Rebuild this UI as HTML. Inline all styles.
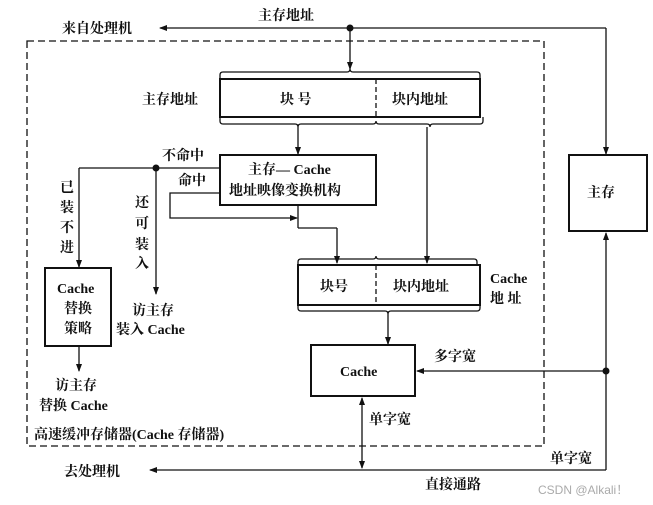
<!DOCTYPE html>
<html><head><meta charset="utf-8"><style>
body{margin:0;background:#fff}
svg{display:block}
text{font-family:"Liberation Serif","Noto Serif CJK SC",serif;font-size:14px;font-weight:bold;fill:#111}
</style></head><body>
<svg width="653" height="505" viewBox="0 0 653 505" xmlns="http://www.w3.org/2000/svg">
<defs>
<marker id="a" markerWidth="8" markerHeight="8" refX="7" refY="3" orient="auto" markerUnits="userSpaceOnUse"><path d="M0,0 L8,3 L0,6 Z" fill="#111"/></marker>
</defs>
<g stroke="#111" fill="none" stroke-width="1.3">
<!-- dashed container -->
<rect x="27" y="41" width="517" height="405" stroke-dasharray="7,4"/>
<!-- top line -->
<line x1="606" y1="28" x2="160" y2="28" marker-end="url(#a)"/>
<line x1="606" y1="28" x2="606" y2="154" marker-end="url(#a)"/>
<line x1="350" y1="28" x2="350" y2="69" marker-end="url(#a)"/>
<!-- main address box -->
<rect x="220" y="79" width="260" height="38" stroke-width="2"/>
<line x1="376" y1="79" x2="376" y2="117" stroke-dasharray="5,3"/>
<path d="M220,79 v-4 q0,-3 3,-3 h124 q3,0 3,-3 q0,3 3,3 h124 q3,0 3,3 v4"/>
<path d="M220,117 v4 q0,3 3,3 h72 q3,0 3,3 q0,-3 3,-3 h72 q3,0 3,-3 q0,3 3,3 h48 q3,0 3,3 q0,-3 3,-3 h47 q3,0 3,-3 v-4"/>
<line x1="298" y1="127" x2="298" y2="154" marker-end="url(#a)"/>
<line x1="427" y1="127" x2="427" y2="263" marker-end="url(#a)"/>
<!-- mapping box -->
<rect x="220" y="155" width="156" height="50" stroke-width="2"/>
<line x1="298" y1="205" x2="298" y2="228"/>
<line x1="298" y1="228" x2="337" y2="228"/>
<line x1="337" y1="228" x2="337" y2="263" marker-end="url(#a)"/>
<polyline points="220,193 170,193 170,218 297,218" marker-end="url(#a)"/>
<!-- miss line -->
<line x1="220" y1="168" x2="79" y2="168"/>
<line x1="79" y1="168" x2="79" y2="267" marker-end="url(#a)"/>
<line x1="156" y1="168" x2="156" y2="294" marker-end="url(#a)"/>
<rect x="45" y="268" width="66" height="78" stroke-width="2"/>
<line x1="79" y1="346" x2="79" y2="371" marker-end="url(#a)"/>
<!-- cache address -->
<rect x="298" y="265" width="182" height="40" stroke-width="2"/>
<line x1="376" y1="265" x2="376" y2="305" stroke-dasharray="5,3"/>
<path d="M298,265 v-3 q0,-3 3,-3 h72 q3,0 3,-3 q0,3 3,3 h95 q3,0 3,3 v3"/>
<path d="M298,305 v3 q0,3 3,3 h84 q3,0 3,3 q0,-3 3,-3 h86 q3,0 3,-3 v-3"/>
<line x1="388" y1="314" x2="388" y2="344" marker-end="url(#a)"/>
<!-- cache box -->
<rect x="311" y="345" width="104" height="51" stroke-width="2"/>
<line x1="606" y1="371" x2="417" y2="371" marker-end="url(#a)"/>
<!-- main memory -->
<rect x="569" y="155" width="78" height="76" stroke-width="2"/>
<line x1="606" y1="470" x2="606" y2="233" marker-end="url(#a)"/>
<line x1="606" y1="470" x2="150" y2="470" marker-end="url(#a)"/>
<line x1="362" y1="430" x2="362" y2="398" marker-end="url(#a)"/>
<line x1="362" y1="430" x2="362" y2="468" marker-end="url(#a)"/>
</g>
<g fill="#111">
<circle cx="350" cy="28" r="3.5"/><circle cx="156" cy="168" r="3.5"/><circle cx="606" cy="371" r="3.5"/>
</g>
<text x="62" y="33">来自处理机</text>
<text x="258" y="20">主存地址</text>
<text x="142" y="104">主存地址</text>
<text x="280" y="104">块  号</text>
<text x="392" y="104">块内地址</text>
<text x="162" y="160">不命中</text>
<text x="178" y="185">命中</text>
<text x="248" y="174">主存— Cache</text>
<text x="229" y="195">地址映像变换机构</text>
<text x="60" y="192">已</text><text x="60" y="212">装</text><text x="60" y="232">不</text><text x="60" y="252">进</text>
<text x="135" y="207">还</text><text x="135" y="228">可</text><text x="135" y="249">装</text><text x="135" y="268">入</text>
<text x="57" y="293">Cache</text><text x="64" y="313">替换</text><text x="64" y="333">策略</text>
<text x="132" y="315">访主存</text><text x="116" y="334">装入 Cache</text>
<text x="55" y="390">访主存</text><text x="39" y="410">替换 Cache</text>
<text x="34" y="439">高速缓冲存储器(Cache 存储器)</text>
<text x="320" y="291">块号</text><text x="393" y="291">块内地址</text>
<text x="490" y="283">Cache</text><text x="490" y="303">地  址</text>
<text x="340" y="376">Cache</text>
<text x="434" y="361">多字宽</text>
<text x="587" y="197">主存</text>
<text x="369" y="424">单字宽</text>
<text x="550" y="463">单字宽</text>
<text x="64" y="476">去处理机</text>
<text x="425" y="489">直接通路</text>
<text x="538" y="494" style="font-family:'Liberation Sans',sans-serif;font-weight:normal;font-size:12px;fill:#aaa">CSDN @Alkali！</text>
</svg>
</body></html>
